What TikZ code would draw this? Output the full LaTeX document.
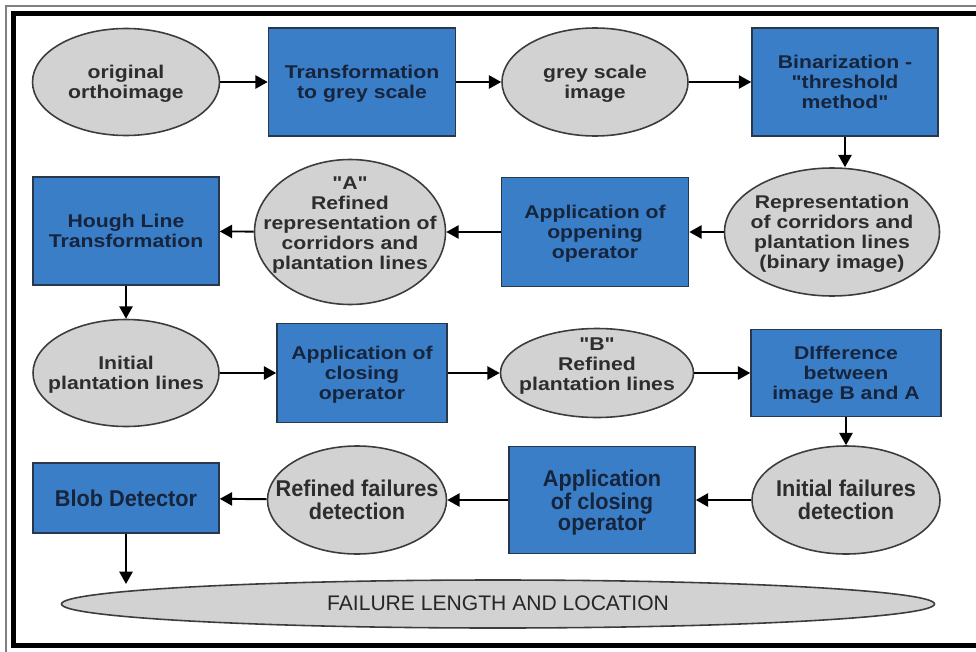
\documentclass[tikz,border=0pt]{standalone}
\usepackage{fontspec}
\setmainfont{Liberation Sans}[FakeStretch=1.15, Ligatures=TeXOff]
\newfontfamily\narrowfont{Liberation Sans}[FakeStretch=0.95]
\newfontfamily\plainfont{Liberation Sans}
\usepackage{tikz}
\usetikzlibrary{shapes.geometric,arrows.meta}

\definecolor{boxblue}{RGB}{58,126,200}
\definecolor{boxline}{RGB}{40,55,75}
\definecolor{boxtext}{RGB}{22,36,60}
\definecolor{ovfill}{RGB}{210,210,210}
\definecolor{ovline}{RGB}{60,60,60}
\definecolor{ovtext}{RGB}{45,45,45}

% text of a node, kept from resizing the shape
\newcommand{\nodetext}[2][0pt]{\makebox[0pt]{\raisebox{\dimexpr-0.25em-1.5pt+#1\relax}[0pt][0pt]{\begin{tabular}{@{}c@{}}#2\end{tabular}}}}

\tikzset{
  proc/.style={rectangle, draw=boxline, fill=boxblue, line width=0.9pt, text=boxtext,
    minimum width=3.74cm, minimum height=2.16cm, inner sep=0pt,
    font=\bfseries\fontsize{10.5}{11.3}\selectfont},
  data/.style={ellipse, draw=ovline, fill=ovfill, line width=0.9pt, text=ovtext,
    minimum width=3.74cm, minimum height=2.14cm, inner sep=0pt,
    font=\bfseries\fontsize{10.5}{11.3}\selectfont},
  narrow/.style={font=\narrowfont\bfseries\fontsize{13}{12}\selectfont},
  flow/.style={-{Triangle[length=7pt,width=7.5pt]}, line width=1.1pt, draw=black},
}

\begin{document}
\begin{tikzpicture}
      \clip (0,0) rectangle (19.52,-13.02);
      % frame
      \draw[line width=1.1pt, draw=gray] (0.12,-13.2) -- (0.12,-0.12) -- (19.8,-0.12);
      \draw[line width=2.8pt, draw=black] (0.27,-0.27) rectangle (19.9,-12.91);

      % first row
      \node[data] (ortho) at (2.52,-1.64) {\nodetext{original\\orthoimage}};
      \node[proc] (grey) at (7.24,-1.64) {\nodetext{Transformation\\to grey scale}};
      \node[data, minimum width=3.72cm, minimum height=2.16cm] (greyimg) at (11.9,-1.64) {\nodetext{grey scale\\image}};
      \node[proc, minimum width=3.72cm] (binar) at (16.9,-1.64) {\nodetext{Binarization -\\"threshold\\method"}};

      % second row
      \node[data, minimum width=4.3cm, minimum height=2.56cm] (repr) at (16.64,-4.64) {\nodetext{Representation\\of corridors and\\plantation lines\\(binary image)}};
      \node[proc, minimum height=2.18cm] (open) at (11.9,-4.64) {\nodetext{Application of\\oppening\\operator}};
      \node[data, minimum width=3.82cm, minimum height=2.9cm] (refA) at (7.0,-4.64) {\nodetext[0.18cm]{"A"\\Refined\\representation of\\corridors and\\plantation lines}};
      \node[proc, minimum width=3.72cm] (hough) at (2.52,-4.62) {\nodetext{Hough Line\\Transformation}};

      % third row
      \node[data, minimum width=3.72cm] (initpl) at (2.52,-7.46) {\nodetext{Initial\\plantation lines}};
      \node[proc, minimum width=3.4cm, minimum height=1.98cm] (close1) at (7.24,-7.46) {\nodetext{Application of\\closing\\operator}};
      \node[data, minimum width=3.86cm, minimum height=1.78cm] (refB) at (11.94,-7.46) {\nodetext[0.18cm]{"B"\\Refined\\plantation lines}};
      \node[proc, minimum width=3.8cm, minimum height=1.74cm] (diff) at (16.92,-7.46) {\nodetext{DIfference\\between\\image B and A}};

      % fourth row
      \node[data, narrow, minimum width=3.76cm, minimum height=2.16cm] (initf) at (16.92,-10.0) {\nodetext{Initial failures\\detection}};
      \node[proc, narrow, minimum width=3.72cm, minimum height=2.14cm] (close2) at (12.04,-10.0) {\nodetext{Application\\of closing\\operator}};
      \node[data, narrow, minimum width=3.58cm, minimum height=2.16cm] (reff) at (7.14,-10.0) {\nodetext{Refined failures\\detection}};
      \node[proc, narrow, minimum width=3.72cm, minimum height=1.4cm] (blob) at (2.52,-9.96) {\nodetext{Blob Detector}};

      % result
      \node[data, minimum width=17.46cm, minimum height=0.96cm, text=black!85, font=\plainfont\fontsize{12}{12}\selectfont] (result) at (9.96,-12.08) {\nodetext{FAILURE LENGTH AND LOCATION}};
      \coordinate (blobend) at (2.52,-11.68);

      \draw[flow] (ortho) to (grey);
      \draw[flow] (grey) to (greyimg);
      \draw[flow] (greyimg) to (binar);
      \draw[flow] (binar.south) to (binar.south |- repr.north);
      \draw[flow] (repr) to (open);
      \draw[flow] (open) to (refA);
      \draw[flow] (refA) to (hough);
      \draw[flow] (hough) to (initpl);
      \draw[flow] (initpl) to (close1);
      \draw[flow] (close1) to (refB);
      \draw[flow] (refB) to (diff);
      \draw[flow] (diff) to (initf);
      \draw[flow] (initf) to (close2);
      \draw[flow] (close2) to (reff);
      \draw[flow] (reff) to (blob);
      \draw[flow] (blob) to (blobend);
    \end{tikzpicture}
\end{document}
